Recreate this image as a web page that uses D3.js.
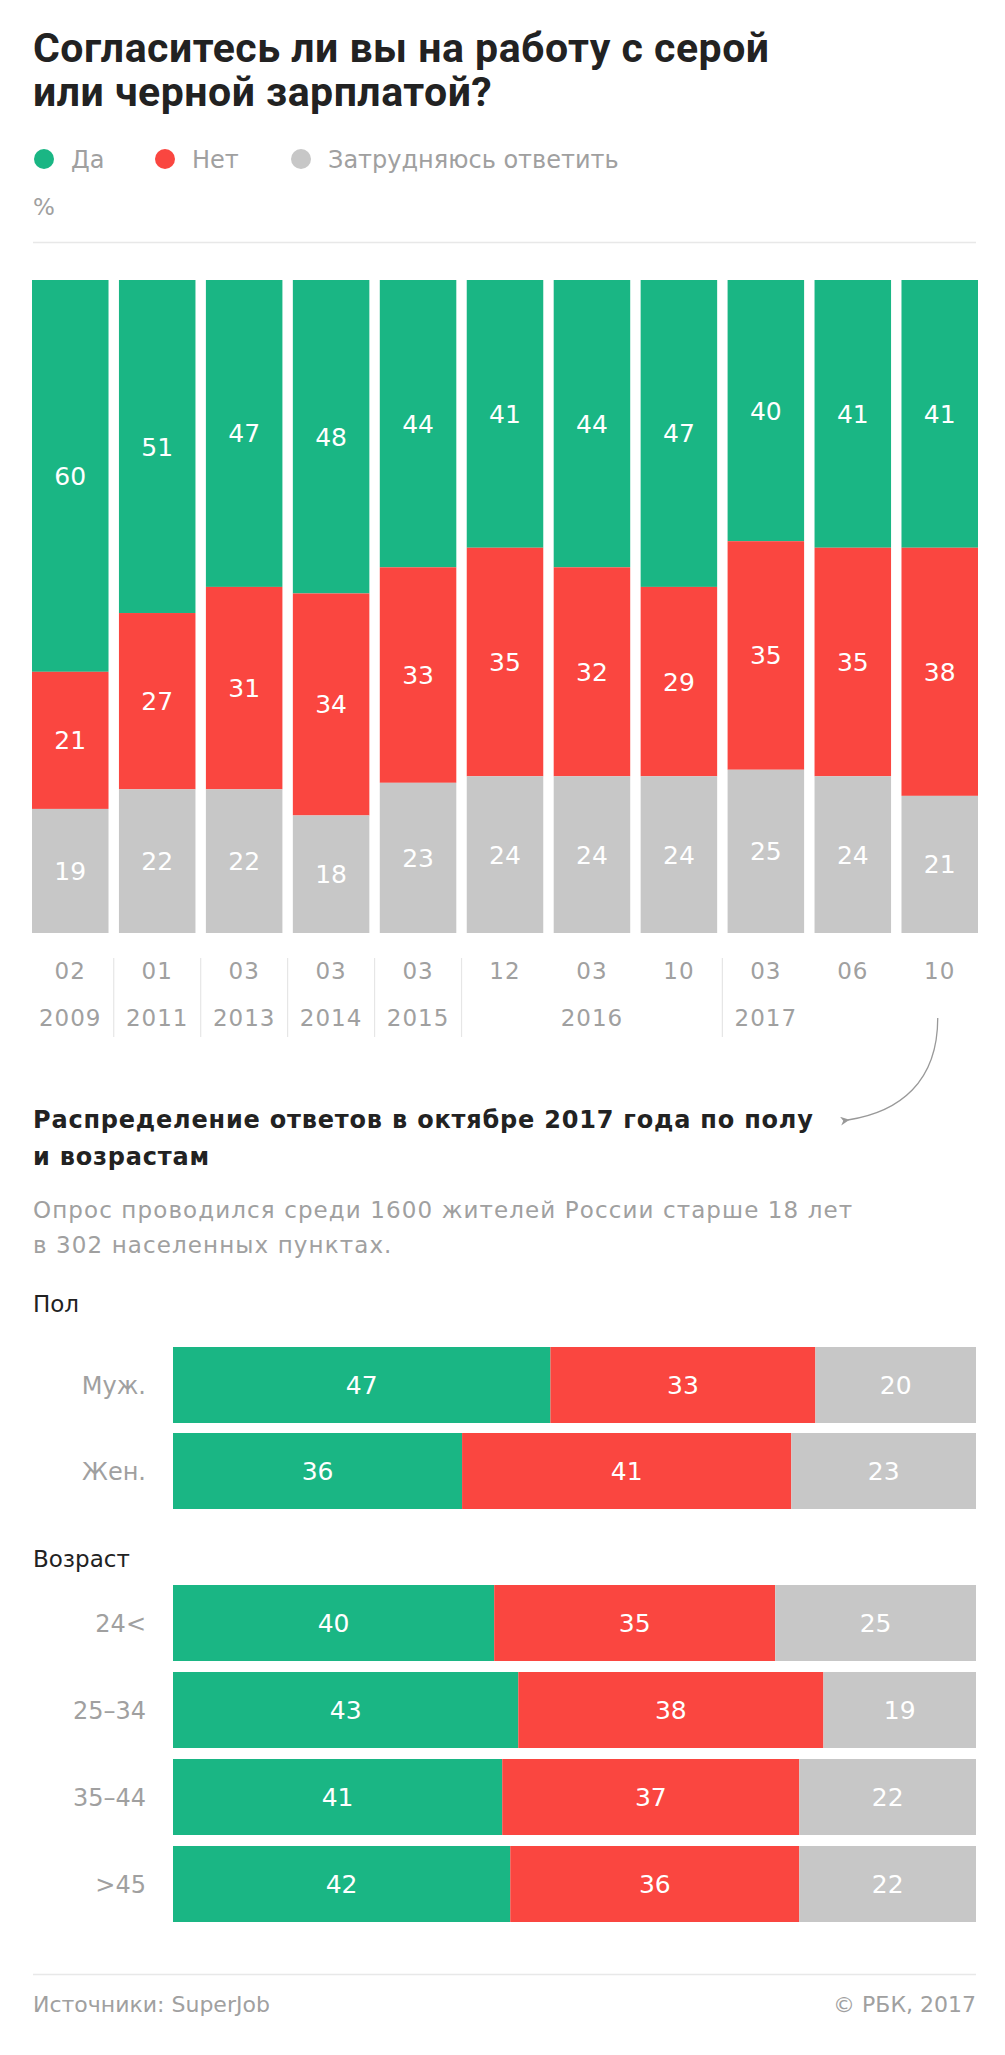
<!DOCTYPE html>
<html><head><meta charset="utf-8">
<script src="https://cdn.jsdelivr.net/npm/d3@7"></script>
<style>
html,body{margin:0;padding:0;background:#fff;}
svg{display:block;}
</style></head>
<body>
<svg id="chart" width="1005" height="2055"></svg>
<script>
// ---- data ----
const months = ["02","01","03","03","03","12","03","10","03","06","10"];
const yesVals = [60,51,47,48,44,41,44,47,40,41,41];
const noVals = [21,27,31,34,33,35,32,29,35,35,38];
const unsureVals = [19,22,22,18,23,24,24,24,25,24,21];
const yearLabels = ["2009","2011","2013","2014","2015","2016","2017"];
const yearLabelBar = [0,1,2,3,4,6,8];
const yearGroupStarts = [1,2,3,4,5,8];

const seriesNames = ["Да","Нет","Затрудняюсь ответить"];
const seriesKeys = ["yes","no","unsure"];

const genderCats = ["Муж.","Жен."];
const genderYes = [47,36];
const genderNo = [33,41];
const genderUnsure = [20,23];

const ageCats = ["24<","25–34","35–44",">45"];
const ageYes = [40,43,41,42];
const ageNo = [35,38,37,36];
const ageUnsure = [25,19,22,22];

// ---- styles ----
const colors = {yes:"#1ab684", no:"#fa4640", unsure:"#c7c7c7"};
const grayText = "#a0a0a0";
const darkText = "#222222";
const baseFont = "'DejaVu Sans', sans-serif";
const titleFont = "Roboto, 'DejaVu Sans', sans-serif";

const svg = d3.select("#chart");

// title
const title = svg.append("text").attr("x",33).attr("font-family",titleFont)
  .attr("font-weight",700).attr("font-size",41).attr("fill",darkText).attr("letter-spacing",0.5);
title.append("tspan").attr("x",33).attr("y",62).text("Согласитесь ли вы на работу с серой");
title.append("tspan").attr("x",33).attr("y",106).text("или черной зарплатой?");

// legend
const legendX = [44,165,301];
const legend = svg.append("g");
seriesKeys.forEach((k,i)=>{
  legend.append("circle").attr("cx",legendX[i]).attr("cy",159).attr("r",10).attr("fill",colors[k]);
  legend.append("text").attr("x",legendX[i]+27).attr("y",168).attr("font-family",baseFont)
    .attr("font-size",24).attr("fill",grayText).text(seriesNames[i]);
});
svg.append("text").attr("x",33).attr("y",215).attr("font-family",baseFont).attr("font-size",23)
  .attr("fill",grayText).text("%");
svg.append("line").attr("x1",33).attr("x2",976).attr("y1",242.5).attr("y2",242.5)
  .attr("stroke","#e8e8e8").attr("stroke-width",1.5);

// vertical stacked bars
const rows = months.map((m,i)=>({i, yes:yesVals[i], no:noVals[i], unsure:unsureVals[i]}));
const x = d3.scaleBand().domain(d3.range(months.length)).range([32,978]).paddingInner(0.12).paddingOuter(0);
const y = d3.scaleLinear().domain([0,100]).range([280,933]);
const stack = d3.stack().keys(seriesKeys);
const stacked = stack(rows);

const barsG = svg.append("g");
stacked.forEach(layer=>{
  const g = barsG.append("g").attr("fill",colors[layer.key]);
  g.selectAll("rect").data(layer).join("rect")
    .attr("x",d=>x(d.data.i)).attr("width",x.bandwidth())
    .attr("y",d=>y(d[0])).attr("height",d=>y(d[1])-y(d[0]));
  barsG.append("g").selectAll("text").data(layer).join("text")
    .attr("x",d=>x(d.data.i)+x.bandwidth()/2)
    .attr("y",d=>(y(d[0])+y(d[1]))/2).attr("dy","0.36em")
    .attr("text-anchor","middle").attr("font-family",baseFont).attr("font-size",25)
    .attr("fill","#fff")
    .text(d=>d.data[layer.key]);
});

// axis: months
const axisG = svg.append("g").attr("transform","translate(0,979)")
  .call(d3.axisBottom(x).tickSize(0).tickPadding(0).tickFormat(i=>months[i]));
axisG.select(".domain").remove();
axisG.selectAll("text").attr("y",0).attr("dy",0).attr("font-family",baseFont).attr("font-size",23)
  .attr("letter-spacing",1).attr("fill",grayText);
// years
svg.append("g").selectAll("text").data(yearLabels).join("text")
  .attr("x",(d,j)=>x(yearLabelBar[j])+x.bandwidth()/2).attr("y",1026)
  .attr("text-anchor","middle").attr("font-family",baseFont).attr("font-size",23)
  .attr("letter-spacing",1).attr("fill",grayText).text(d=>d);
// separators
const step = x.step();
svg.append("g").selectAll("line").data(yearGroupStarts).join("line")
  .attr("x1",d=>x(d)-(step-x.bandwidth())/2).attr("x2",d=>x(d)-(step-x.bandwidth())/2)
  .attr("y1",958).attr("y2",1037).attr("stroke","#e6e6e6").attr("stroke-width",1.2);

// arrow
const defs = svg.append("defs");
defs.append("marker").attr("id","arrowhead").attr("viewBox","0 0 10 10").attr("refX",2).attr("refY",5)
  .attr("markerWidth",7).attr("markerHeight",7).attr("orient","auto")
  .append("path").attr("d","M0,5 L10,0 L7,5 L10,10 Z").attr("fill","#999");
const lastX = x(months.length-1)+x.bandwidth()/2;
svg.append("path")
  .attr("d",`M${lastX-2},1018 C${lastX-2},1082 ${lastX-40},1112 ${lastX-92},1120`)
  .attr("fill","none").attr("stroke","#999").attr("stroke-width",1.3)
  .attr("marker-end","url(#arrowhead)");

// subtitle
const sub = svg.append("text").attr("font-family",baseFont).attr("font-weight",700)
  .attr("font-size",24).attr("fill",darkText).attr("letter-spacing",0.8);
sub.append("tspan").attr("x",33).attr("y",1128).text("Распределение ответов в октябре 2017 года по полу");
sub.append("tspan").attr("x",33).attr("y",1165).text("и возрастам");

const note = svg.append("text").attr("font-family",baseFont).attr("font-size",23)
  .attr("letter-spacing",1.1).attr("fill",grayText);
note.append("tspan").attr("x",33).attr("y",1218).text("Опрос проводился среди 1600 жителей России старше 18 лет");
note.append("tspan").attr("x",33).attr("y",1253).text("в 302 населенных пунктах.");

// horizontal bars
const hx = d3.scaleLinear().domain([0,100]).range([173,976]);

function hBlock(cats, yesA, noA, unA, top, stepPx, gap, header, headerY){
  svg.append("text").attr("x",33).attr("y",headerY).attr("font-family",baseFont).attr("font-size",23)
    .attr("fill",darkText).text(header);
  const data = cats.map((c,i)=>({cat:c, yes:yesA[i], no:noA[i], unsure:unA[i]}));
  const yb = d3.scaleBand().domain(cats).range([top, top+stepPx*cats.length-gap])
    .paddingInner(gap/stepPx).paddingOuter(0);
  const layers = d3.stack().keys(seriesKeys)(data);
  const g = svg.append("g");
  layers.forEach(layer=>{
    g.append("g").attr("fill",colors[layer.key]).selectAll("rect").data(layer).join("rect")
      .attr("x",d=>hx(d[0])).attr("width",d=>hx(d[1])-hx(d[0]))
      .attr("y",d=>yb(d.data.cat)).attr("height",yb.bandwidth());
    g.append("g").selectAll("text").data(layer).join("text")
      .attr("x",d=>(hx(d[0])+hx(d[1]))/2).attr("y",d=>yb(d.data.cat)+yb.bandwidth()/2)
      .attr("dy","0.36em").attr("text-anchor","middle").attr("font-family",baseFont)
      .attr("font-size",25).attr("fill","#fff").text(d=>d.data[layer.key]);
  });
  const ax = svg.append("g").attr("transform","translate(146,0)")
    .call(d3.axisLeft(yb).tickSize(0).tickPadding(0));
  ax.select(".domain").remove();
  ax.selectAll("text").attr("x",0).attr("dy","0.36em").attr("font-family",baseFont)
    .attr("font-size",24).attr("fill",grayText).attr("text-anchor","end");
}
hBlock(genderCats, genderYes, genderNo, genderUnsure, 1347, 86, 10, "Пол", 1312);
hBlock(ageCats, ageYes, ageNo, ageUnsure, 1585, 87, 11, "Возраст", 1567);

// footer
svg.append("line").attr("x1",33).attr("x2",976).attr("y1",1974.5).attr("y2",1974.5)
  .attr("stroke","#e8e8e8").attr("stroke-width",1.5);
svg.append("text").attr("x",33).attr("y",2012).attr("font-family",baseFont).attr("font-size",22)
  .attr("fill",grayText).text("Источники: SuperJob");
svg.append("text").attr("x",976).attr("y",2012).attr("text-anchor","end").attr("font-family",baseFont)
  .attr("font-size",22).attr("fill",grayText).text("© РБК, 2017");
</script>
</body></html>
